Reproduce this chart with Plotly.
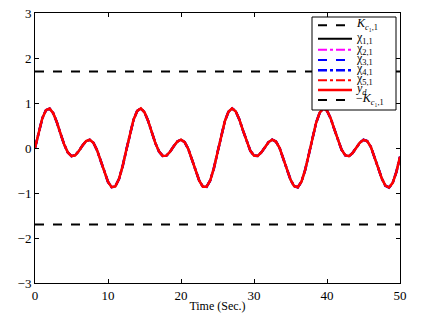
import plotly.graph_objects as go

# time samples (s)
t = [i * 0.5 for i in range(101)]
# reference trajectory y_d
yd = [0, 0.363, 0.660, 0.840, 0.875, 0.774, 0.569, 0.317, 0.076, -0.100,
      -0.181, -0.162, -0.069, 0.054, 0.153, 0.183, 0.116, -0.049, -0.283, -0.537,
      -0.752, -0.870, -0.853, -0.692, -0.408, -0.050, 0.318, 0.628, 0.824, 0.879,
      0.794, 0.601, 0.351, 0.105, -0.082, -0.176, -0.170, -0.084, 0.038, 0.143,
      0.185, 0.130, -0.022, -0.249, -0.505, -0.727, -0.861, -0.863, -0.722, -0.452,
      -0.099, 0.271, 0.592, 0.806, 0.880, 0.813, 0.631, 0.385, 0.136, -0.063,
      -0.169, -0.175, -0.099, 0.021, 0.132, 0.185, 0.144, 0.004, -0.216, -0.471,
      -0.702, -0.850, -0.872, -0.749, -0.493, -0.149, 0.223, 0.554, 0.785, 0.880,
      0.829, 0.660, 0.419, 0.167, -0.040, -0.161, -0.180, -0.113, 0.005, 0.119,
      0.182, 0.155, 0.028, -0.184, -0.437, -0.676, -0.837, -0.878, -0.773, -0.534,
      -0.197]
# states chi_{i,1} (track y_d closely)
chi1 = yd
chi2 = yd
chi3 = yd
chi4 = yd
chi5 = yd
K_bound = 1.7
t_span = [0, 50]

names = ["<i>K</i><sub><i>c</i>₁,1</sub>", "χ<sub>1,1</sub>", "χ<sub>2,1</sub>",
         "χ<sub>3,1</sub>", "χ<sub>4,1</sub>", "χ<sub>5,1</sub>",
         "<i>y<sub>d</sub></i>", "−<i>K</i><sub><i>c</i>₁,1</sub>"]
styles = [dict(color="black", width=2, dash="dash"),
          dict(color="black", width=2),
          dict(color="magenta", width=2, dash="dashdot"),
          dict(color="blue", width=2, dash="dash"),
          dict(color="blue", width=2.6, dash="dashdot"),
          dict(color="red", width=2, dash="dashdot"),
          dict(color="red", width=2.5),
          dict(color="black", width=2, dash="dash")]
series = [(t_span, [K_bound, K_bound]), (t, chi1), (t, chi2), (t, chi3), (t, chi4),
          (t, chi5), (t, yd), (t_span, [-K_bound, -K_bound])]

fig = go.Figure()
for (xs, ys), nm, st in zip(series, names, styles):
    fig.add_trace(go.Scatter(x=xs, y=ys, mode="lines", line=st, name=nm, showlegend=False))

axis_common = dict(showline=True, linecolor="black", linewidth=1, mirror="ticks",
                   ticks="inside", ticklen=4, tickcolor="black", showgrid=False,
                   zeroline=False, automargin=False,
                   tickfont=dict(family="Liberation Serif", size=13, color="black"))
fig.update_xaxes(range=[0, 50], tickvals=[0, 10, 20, 30, 40, 50],
                 title=dict(text="Time (Sec.)", standoff=0,
                            font=dict(family="Liberation Serif", size=12, color="black")),
                 **axis_common)
fig.update_yaxes(range=[-3, 3], tickvals=[-3, -2, -1, 0, 1, 2, 3], **axis_common)

# manual legend box (MATLAB style, compact)
L, T, W, H = 35, 13, 365, 270
def px(x):
    return (x - L) / W
def py(y):
    return (T + H - y) / H

shapes = [dict(type="rect", xref="paper", yref="paper", x0=px(312), x1=px(396),
               y0=py(110), y1=py(17), line=dict(color="black", width=1),
               fillcolor="white", layer="above")]
annotations = []
row_y = [25.3, 38.7, 49.7, 60, 70.3, 80.3, 90, 100]
for yy, nm, st in zip(row_y, names, styles):
    shapes.append(dict(type="line", xref="paper", yref="paper", x0=px(318), x1=px(352),
                       y0=py(yy), y1=py(yy), line=st, layer="above"))
    annotations.append(dict(xref="paper", yref="paper", x=px(354), y=py(yy), text=nm,
                            showarrow=False, xanchor="left", yanchor="middle", yshift=1,
                            font=dict(family="Liberation Serif", size=12, color="black")))

fig.update_layout(
    width=434, height=314,
    margin=dict(l=35, r=34, t=13, b=31),
    paper_bgcolor="white", plot_bgcolor="white",
    font=dict(family="Liberation Serif", color="black"),
    shapes=shapes, annotations=annotations, showlegend=False,
)
fig.write_html("out.html", config={"displayModeBar": False},
               post_script="document.body.style.margin='0px';")
